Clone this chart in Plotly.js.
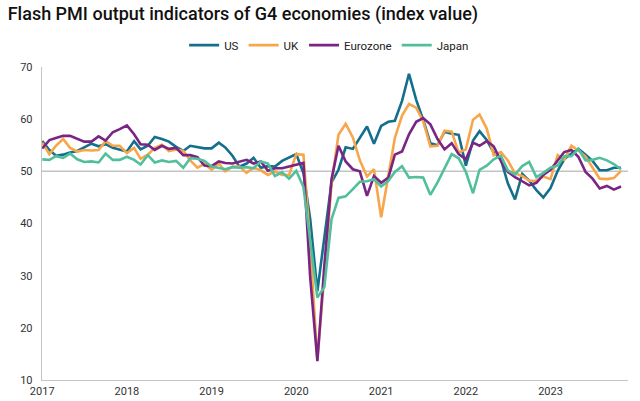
<!DOCTYPE html>
<html>
<head>
<meta charset="utf-8">
<script src="https://cdn.plot.ly/plotly-3.0.1.min.js"></script>
<style>html,body{margin:0;padding:0;background:#fff;}#chart{width:640px;height:401px;}</style>
</head>
<body>
<div id="chart"></div>
<script>
// Monthly flash PMI output indices, Jan 2017 - Nov 2023
const startYear = 2017;
const yearTicks = ['2017','2018','2019','2020','2021','2022','2023'];
const seriesNames = ['US','UK','Eurozone','Japan'];

const us = [
  55.8,54.1,53.0,53.2,53.6,53.9,54.6,55.3,54.8,55.2,54.5,54.1,
  53.8,55.8,54.2,54.9,56.6,56.2,55.7,54.7,53.9,54.9,54.7,54.4,
  54.4,55.5,54.6,53.0,50.9,51.5,52.6,50.7,51.0,50.9,52.0,52.7,
  53.3,49.6,40.9,27.0,37.0,47.9,50.3,54.6,54.3,56.3,58.6,55.3,
  58.7,59.5,59.7,63.5,68.7,63.7,59.9,55.4,55.0,57.6,57.2,57.0,
  51.1,55.9,57.7,56.0,53.6,52.3,47.7,44.6,49.5,48.2,46.4,45.0,
  46.8,50.1,52.3,53.4,54.3,53.2,52.0,50.2,50.2,50.7,50.7
];
const uk = [
  55.5,53.3,54.9,56.2,54.5,53.8,54.1,54.0,54.1,55.8,54.9,54.9,
  53.5,54.5,52.4,53.2,54.5,55.1,53.9,54.2,53.9,52.1,50.7,51.4,
  50.3,51.5,50.0,50.9,50.9,49.7,50.7,50.2,49.3,50.0,49.3,49.3,
  53.3,53.2,36.0,13.8,30.0,47.7,57.0,59.1,56.5,52.1,49.0,50.4,
  41.2,49.6,56.4,60.7,62.9,62.2,59.6,54.8,54.9,57.8,57.6,53.6,
  54.2,59.9,60.9,58.2,53.1,53.7,52.1,49.6,49.1,48.2,48.2,49.0,
  48.5,53.1,52.2,54.9,54.0,52.8,50.8,48.6,48.5,48.7,50.1
];
const eurozone = [
  54.4,56.0,56.4,56.8,56.8,56.3,55.7,55.7,56.7,55.9,57.5,58.1,
  58.8,57.1,55.2,55.1,54.1,54.9,54.3,54.5,53.1,53.1,52.7,51.1,
  51.0,51.9,51.6,51.5,51.8,52.2,51.5,51.9,50.1,50.6,50.6,50.9,
  51.3,51.6,29.7,13.6,31.9,48.5,54.9,51.9,50.4,50.0,45.3,49.1,
  47.8,48.8,53.2,53.8,57.1,59.5,60.2,59.0,56.2,54.2,55.4,53.3,
  52.3,55.5,54.9,55.8,54.8,52.0,49.9,48.9,48.1,47.3,47.8,49.3,
  50.3,52.0,53.7,54.1,52.8,49.9,48.6,46.7,47.2,46.5,47.1
];
const japan = [
  52.3,52.2,52.9,52.6,53.4,52.3,51.8,51.9,51.7,53.4,52.2,52.2,
  52.8,52.2,51.3,53.1,51.7,52.1,51.8,52.0,50.7,52.5,52.4,52.0,
  50.9,50.7,50.4,50.8,50.7,50.8,50.6,51.9,51.5,49.1,49.8,48.6,
  50.1,47.0,36.2,25.8,27.8,40.8,44.9,45.2,46.6,48.0,48.1,48.5,
  47.1,48.2,49.9,51.0,48.8,48.9,48.8,45.5,47.9,50.7,53.3,52.5,
  49.9,45.8,50.3,51.1,52.3,53.0,50.2,49.4,51.0,51.8,48.9,49.7,
  50.7,51.1,52.9,52.9,54.3,52.1,52.2,52.6,52.1,51.4,50.4
];
const colors = ['#146f8c','#f7a64a','#7a2484','#52bf9c'];

const months = us.map((_, i) => {
  const y = startYear + Math.floor(i / 12);
  const m = (i % 12) + 1;
  return y + '-' + String(m).padStart(2, '0') + '-01';
});

const allSeries = [us, uk, eurozone, japan];
const traces = allSeries.map((vals, k) => ({
  x: months, y: vals, type: 'scatter', mode: 'lines', name: seriesNames[k],
  line: {color: colors[k], width: 2.6}
}));

const font = "Roboto, 'Liberation Sans', Arial, sans-serif";
const layout = {
  width: 640, height: 401,
  margin: {l: 42, r: 12, t: 67, b: 21, autoexpand: false},
  paper_bgcolor: '#ffffff', plot_bgcolor: '#ffffff',
  font: {family: font, size: 11, color: '#333333'},
  title: {text: 'Flash PMI output indicators of G4 economies (index value)',
    font: {family: font, size: 18, color: '#111111', weight: 500},
    x: 0.012, xanchor: 'left', xref: 'container', y: 0.965, yanchor: 'middle', yref: 'container'},
  showlegend: true,
  legend: {orientation: 'h', x: 0.49, xanchor: 'center', y: 1.07, yanchor: 'middle',
    font: {family: font, size: 11.5, color: '#222222'}, bgcolor: 'rgba(0,0,0,0)'},
  xaxis: {type: 'date', range: ['2016-12-31', '2023-12-01'],
    tickvals: yearTicks.map(y => y + '-01-01'), ticktext: yearTicks,
    showgrid: false, zeroline: false, showline: true, linecolor: '#c4c4c4', linewidth: 1.3,
    ticks: '', tickfont: {family: font, size: 11, color: '#333333'}},
  yaxis: {range: [10, 70], tickvals: [10,20,30,40,50,60,70],
    showgrid: false, zeroline: false, showline: true, linecolor: '#c4c4c4', linewidth: 1.3,
    ticks: '', ticklabelstandoff: 6, tickfont: {family: font, size: 11, color: '#333333'}},
  shapes: [{type: 'line', xref: 'paper', x0: 0, x1: 1, yref: 'y', y0: 50, y1: 50,
    line: {color: '#c4c4c4', width: 1.5}, layer: 'below'}]
};

Plotly.newPlot('chart', traces, layout, {displayModeBar: false, staticPlot: true});
</script>
</body>
</html>
